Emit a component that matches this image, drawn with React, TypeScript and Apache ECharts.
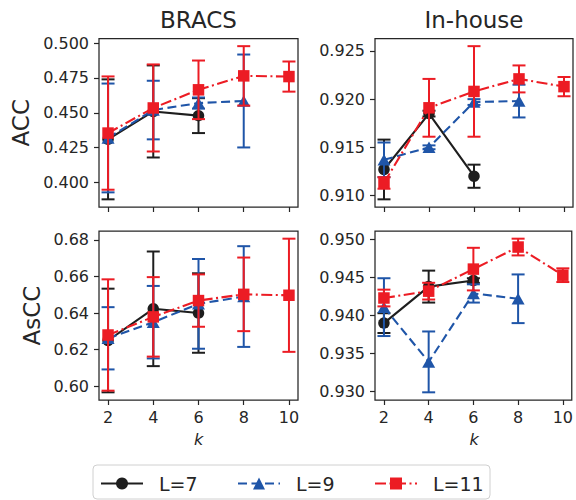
import React, { useEffect, useRef } from "react";
import * as echarts from "echarts";

// ---------- data ----------
const kValues = [2, 4, 6, 8, 10];
const seriesNames = ["L=7", "L=9", "L=11"];
const panelTitles = ["BRACS", "In-house"];
const rowLabels = ["ACC", "AsCC"];
const xLabel = "k";

// BRACS – ACC
const bracsAccL7 = [0.431, 0.451, 0.448];
const bracsAccL7Err = [0.043, 0.033, 0.0125];
const bracsAccL9 = [0.432, 0.452, 0.457, 0.4585];
const bracsAccL9Err = [0.039, 0.021, 0.004, 0.0333];
const bracsAccL11 = [0.4355, 0.4535, 0.4665, 0.4765, 0.476];
const bracsAccL11Err = [0.0406, 0.0312, 0.021, 0.0213, 0.0108];

// In-house – ACC
const houseAccL7 = [0.9127, 0.9185, 0.912];
const houseAccL7Err = [0.0031, 0.0003, 0.0012];
const houseAccL9 = [0.9137, 0.915, 0.9197, 0.9198];
const houseAccL9Err = [0.0018, 0.0002, 0.0003, 0.0017];
const houseAccL11 = [0.9113, 0.9191, 0.9208, 0.9221, 0.9213];
const houseAccL11Err = [0.0006, 0.003, 0.0047, 0.0014, 0.001];

// BRACS – AsCC
const bracsAsccL7 = [0.625, 0.6423, 0.64];
const bracsAsccL7Err = [0.0283, 0.0313, 0.0217];
const bracsAsccL9 = [0.6262, 0.635, 0.645, 0.649];
const bracsAsccL9Err = [0.017, 0.0198, 0.0245, 0.0275];
const bracsAsccL11 = [0.628, 0.6379, 0.6468, 0.6502, 0.6497];
const bracsAsccL11Err = [0.0304, 0.0217, 0.0143, 0.0201, 0.0309];

// In-house – AsCC
const houseAsccL7 = [0.939, 0.9438, 0.9446];
const houseAsccL7Err = [0.0013, 0.0021, 0.0003];
const houseAsccL9 = [0.9411, 0.9339, 0.9429, 0.9422];
const houseAsccL9Err = [0.0038, 0.004, 0.0012, 0.0032];
const houseAsccL11 = [0.9423, 0.9432, 0.9461, 0.949, 0.9453];
const houseAsccL11Err = [0.0011, 0.0011, 0.0028, 0.0011, 0.0009];

// y tick labels
const bracsAccTicks = [0.4, 0.425, 0.45, 0.475, 0.5];
const houseAccTicks = [0.91, 0.915, 0.92, 0.925];
const bracsAsccTicks = [0.6, 0.62, 0.64, 0.66, 0.68];
const houseAsccTicks = [0.93, 0.935, 0.94, 0.945, 0.95];

// ---------- styles ----------
const FONT = "DejaVu Sans";
const INK = "#262626";
const COLORS = ["#1e1e1e", "#1f55a8", "#ec1c24"];
const SYMBOLS = ["circle", "triangle", "rect"];
const SYMBOL_SIZES: any[] = [11.5, [13, 11.5], 11.5];
const LINE_TYPES: any[] = ["solid", [9, 4.5], [11, 3.5, 2, 3.5]];

const grids = [
  { left: 99, top: 38.5, width: 199, height: 168.5 },
  { left: 375, top: 38.5, width: 198, height: 168.5 },
  { left: 99, top: 231, width: 199, height: 169 },
  { left: 375, top: 231, width: 198, height: 169 },
];

const panels = [
  { ticks: bracsAccTicks, dec: 3, means: [bracsAccL7, bracsAccL9, bracsAccL11], errs: [bracsAccL7Err, bracsAccL9Err, bracsAccL11Err] },
  { ticks: houseAccTicks, dec: 3, means: [houseAccL7, houseAccL9, houseAccL11], errs: [houseAccL7Err, houseAccL9Err, houseAccL11Err] },
  { ticks: bracsAsccTicks, dec: 2, means: [bracsAsccL7, bracsAsccL9, bracsAsccL11], errs: [bracsAsccL7Err, bracsAsccL9Err, bracsAsccL11Err] },
  { ticks: houseAsccTicks, dec: 3, means: [houseAsccL7, houseAsccL9, houseAsccL11], errs: [houseAsccL7Err, houseAsccL9Err, houseAsccL11Err] },
];

function extent(p: any) {
  let lo = Infinity, hi = -Infinity;
  p.means.forEach((arr: number[], s: number) =>
    arr.forEach((m, j) => {
      lo = Math.min(lo, m - p.errs[s][j]);
      hi = Math.max(hi, m + p.errs[s][j]);
    })
  );
  const pad = (hi - lo) * 0.05;
  return [lo - pad, hi + pad];
}

function buildOption() {
  const span = kValues[kValues.length - 1] - kValues[0];
  const xMin = kValues[0] - 0.05 * span;
  const xMax = kValues[kValues.length - 1] + 0.05 * span;
  const xAxis: any[] = [];
  const yAxis: any[] = [];
  const series: any[] = [];

  panels.forEach((p, i) => {
    const [yMin, yMax] = extent(p);
    xAxis.push({
      type: "value",
      gridIndex: i,
      min: xMin,
      max: xMax,
      axisLine: { show: false },
      splitLine: { show: false },
      axisTick: { show: true, length: 5, lineStyle: { color: INK, width: 1.2 }, customValues: kValues },
      axisLabel: {
        show: i >= 2,
        customValues: kValues,
        fontSize: 16,
        color: INK,
        fontFamily: FONT,
        margin: 9,
      },
    });
    yAxis.push({
      type: "value",
      gridIndex: i,
      min: yMin,
      max: yMax,
      axisLine: { show: false },
      splitLine: { show: false },
      axisTick: { show: true, length: 5, lineStyle: { color: INK, width: 1.2 }, customValues: p.ticks },
      axisLabel: {
        customValues: p.ticks,
        formatter: (v: number) => v.toFixed(p.dec),
        fontSize: 16,
        color: INK,
        fontFamily: FONT,
        margin: 10,
      },
    });

    p.means.forEach((arr: number[], s: number) => {
      const color = COLORS[s];
      series.push({
        type: "custom",
        name: seriesNames[s] + " err",
        xAxisIndex: i,
        yAxisIndex: i,
        z: 2 + s * 2,
        silent: true,
        data: arr.map((m, j) => [kValues[j], m - p.errs[s][j], m + p.errs[s][j]]),
        encode: { x: 0, y: [1, 2] },
        renderItem: (params: any, api: any) => {
          const x = api.value(0);
          const top = api.coord([x, api.value(2)]);
          const bot = api.coord([x, api.value(1)]);
          const hw = 6.5;
          const st = { stroke: color, lineWidth: 2 };
          return {
            type: "group",
            children: [
              { type: "line", shape: { x1: top[0], y1: top[1], x2: bot[0], y2: bot[1] }, style: st },
              { type: "line", shape: { x1: top[0] - hw, y1: top[1], x2: top[0] + hw, y2: top[1] }, style: st },
              { type: "line", shape: { x1: bot[0] - hw, y1: bot[1], x2: bot[0] + hw, y2: bot[1] }, style: st },
            ],
          };
        },
      });
      series.push({
        type: "line",
        name: seriesNames[s],
        xAxisIndex: i,
        yAxisIndex: i,
        z: 3 + s * 2,
        silent: true,
        data: arr.map((m, j) => [kValues[j], m]),
        symbol: SYMBOLS[s],
        symbolSize: SYMBOL_SIZES[s],
        showAllSymbol: true,
        lineStyle: { color, width: 2.1, type: LINE_TYPES[s] },
        itemStyle: { color },
        emphasis: { disabled: true },
      });
    });
  });

  const legendLefts = [100, 237, 374];
  const legend = seriesNames.map((n, s) => ({
    data: [n],
    left: legendLefts[s],
    top: 474,
    padding: 0,
    itemWidth: 42,
    itemHeight: 15,
    selectedMode: false,
    textStyle: { fontSize: 19, color: INK, fontFamily: FONT, padding: [0, 0, 0, 11] },
  }));

  const centers = grids.map((g) => [g.left + g.width / 2, g.top + g.height / 2]);
  const graphic: any[] = [
    {
      type: "rect",
      z: 0,
      shape: { x: 93, y: 465, width: 397, height: 34, r: 4 },
      style: { fill: "#ffffff", stroke: "#d0d0d0", lineWidth: 1 },
    },
    ...panelTitles.map((t, c) => ({
      type: "text",
      x: centers[c][0],
      y: 20,
      style: { text: t, fontSize: 23, fontFamily: FONT, fill: INK, align: "center", verticalAlign: "middle" },
    })),
    ...rowLabels.map((t, r) => ({
      type: "text",
      x: r === 0 ? 21 : 31.5,
      y: centers[r * 2][1],
      rotation: Math.PI / 2,
      style: { text: t, fontSize: 23, fontFamily: FONT, fill: INK, align: "center", verticalAlign: "middle" },
    })),
    ...[2, 3].map((g) => ({
      type: "text",
      x: centers[g][0],
      y: 439,
      style: { text: xLabel, fontSize: 16, fontStyle: "italic", fontFamily: FONT, fill: INK, align: "center", verticalAlign: "middle" },
    })),
  ];

  return {
    animation: false,
    backgroundColor: "#ffffff",
    grid: grids.map((g) => ({ ...g, show: true, borderColor: INK, borderWidth: 1.25, backgroundColor: "transparent" })),
    xAxis,
    yAxis,
    series,
    legend,
    graphic,
  };
}

export default function App() {
  const ref = useRef<HTMLDivElement>(null);
  useEffect(() => {
    if (!ref.current) return;
    const chart = echarts.init(ref.current, null, { renderer: "svg" });
    chart.setOption(buildOption() as any);
    return () => chart.dispose();
  }, []);
  return (
    <div
      ref={ref}
      style={{ position: "fixed", left: 0, top: 0, width: 576, height: 500, background: "#fff" }}
    />
  );
}
